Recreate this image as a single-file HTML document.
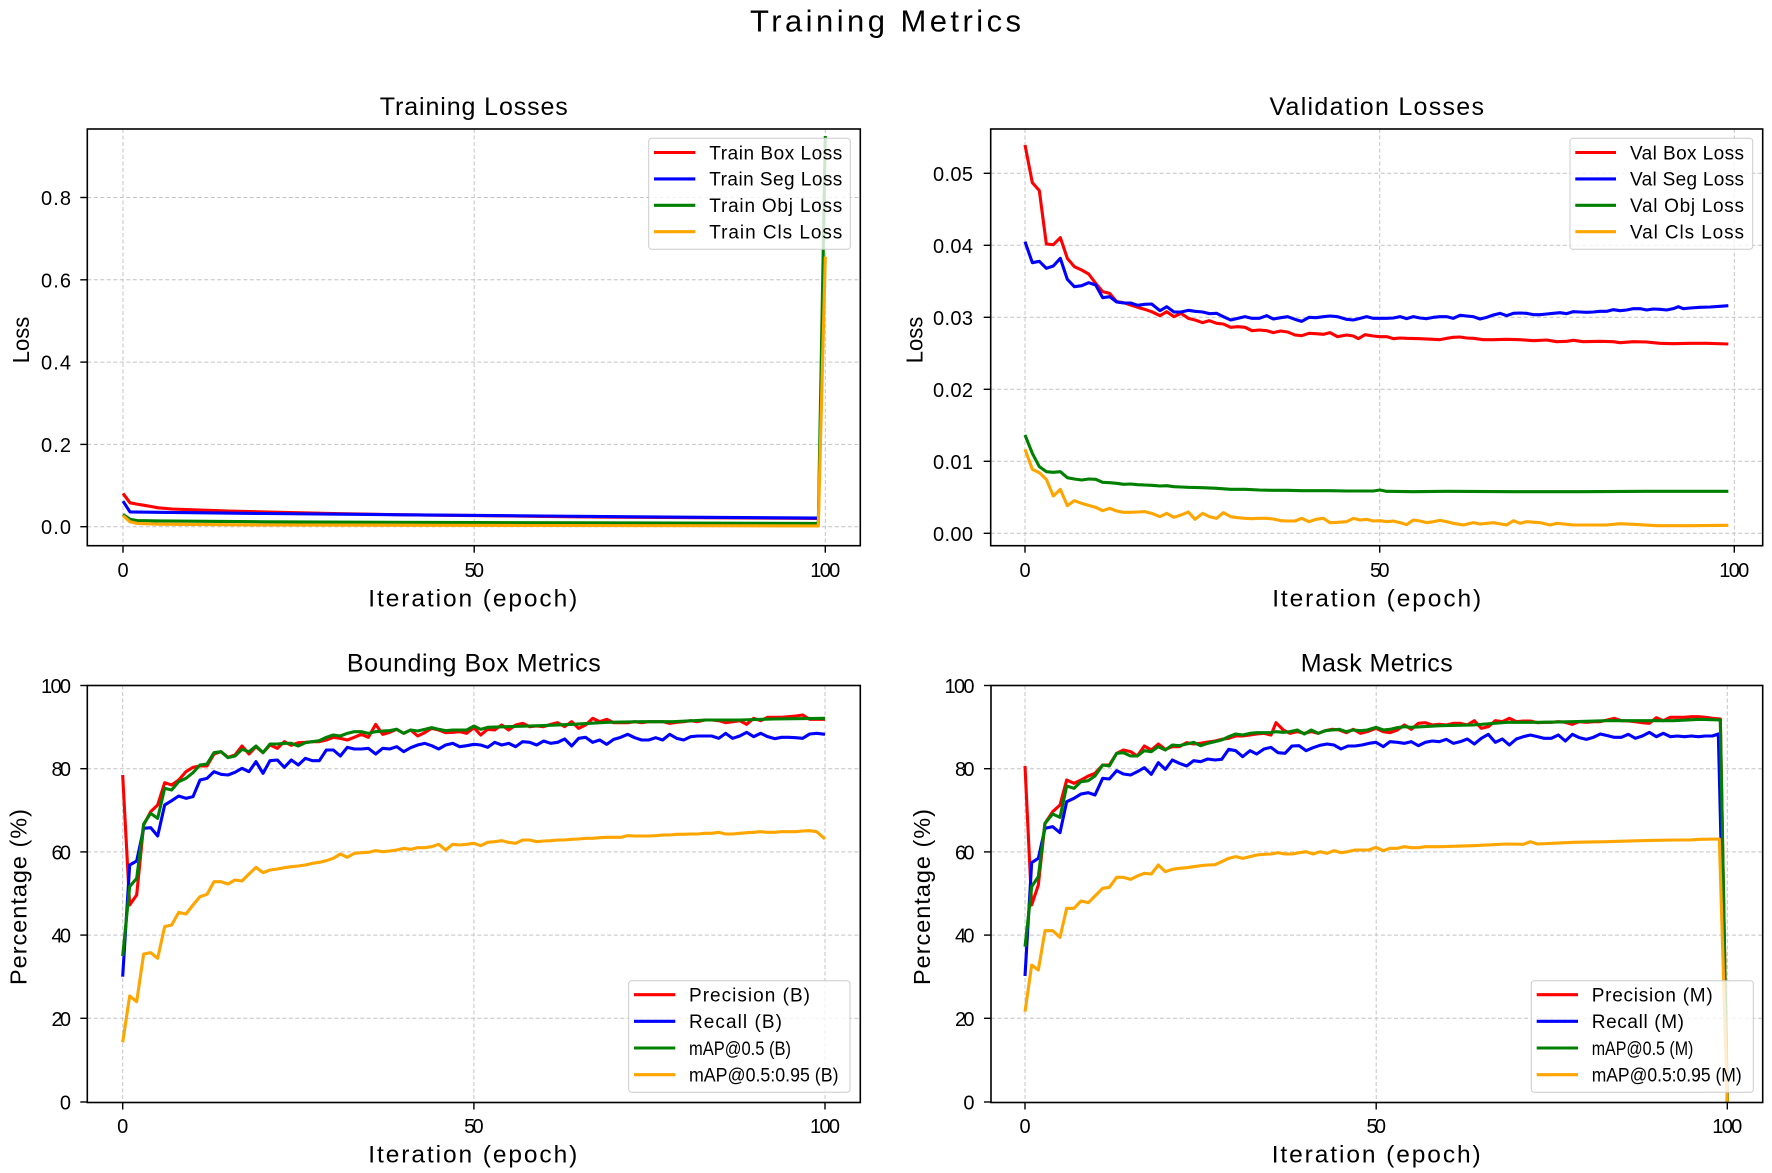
<!DOCTYPE html>
<html><head><meta charset="utf-8"><style>
html,body{margin:0;padding:0;background:#fff;}
svg{display:block;}
text{font-family:"Liberation Sans","Noto Sans CJK SC",sans-serif;fill:#000;}
.tk{font-size:20px;}
.lg{font-size:19px;}
.ttl{font-size:25px;}
.xl{font-size:24.5px;}
.yl{font-size:23.5px;}
.grid{stroke:#c4c4c4;stroke-width:1;stroke-dasharray:4 2.5;fill:none;}
.sp{fill:none;stroke:#000;stroke-width:1.6;}
.tm{stroke:#000;stroke-width:1.4;}
.ln{fill:none;stroke-width:3.1;stroke-linejoin:round;stroke-linecap:butt;}
.lz{fill:none;stroke-width:3.1;stroke-linejoin:round;stroke-linecap:butt;vector-effect:non-scaling-stroke;}
.leg{fill:#fff;fill-opacity:0.8;stroke:#cccccc;stroke-width:1;}
</style></head><body>
<svg width="1772" height="1173" viewBox="0 0 1772 1173" xmlns="http://www.w3.org/2000/svg">
<defs>
<clipPath id="cTL" clipPathUnits="userSpaceOnUse"><rect x="87.3" y="129" width="773" height="416.7"/></clipPath>
<clipPath id="cTR" clipPathUnits="userSpaceOnUse"><rect x="990.7" y="129" width="772" height="416.7"/></clipPath>
<clipPath id="cBL" clipPathUnits="userSpaceOnUse"><rect x="87.3" y="685.5" width="773" height="417"/></clipPath>
<clipPath id="cBR" clipPathUnits="userSpaceOnUse"><rect x="991" y="685.5" width="771.7" height="417"/></clipPath>
</defs>
<rect width="1772" height="1173" fill="#fff"/>

<text x="885.5" y="31.5" font-size="31" text-anchor="middle" textLength="271">Training Metrics</text>

<!-- ================= TOP LEFT ================= -->
<text class="ttl" x="473.8" y="115" text-anchor="middle" textLength="188">Training Losses</text>
<g class="grid">
<line x1="87.3" y1="526.7" x2="860.3" y2="526.7"/>
<line x1="87.3" y1="444.4" x2="860.3" y2="444.4"/>
<line x1="87.3" y1="362.1" x2="860.3" y2="362.1"/>
<line x1="87.3" y1="279.8" x2="860.3" y2="279.8"/>
<line x1="87.3" y1="197.5" x2="860.3" y2="197.5"/>
<line x1="123" y1="129" x2="123" y2="545.7"/>
<line x1="474.2" y1="129" x2="474.2" y2="545.7"/>
<line x1="825.3" y1="129" x2="825.3" y2="545.7"/>
</g>
<g clip-path="url(#cTL)">
<polyline class="ln" stroke="#ff0000" points="123,493.4 130,502.8 137,504.1 144.1,505.3 151.1,506.5 158.1,507.8 172.2,509 193.2,509.8 228.3,511.1 263.5,511.9 333.7,513.5 403.9,514.8 474.2,515.6 544.4,516.4 614.6,517.2 684.8,517.6 818.3,518.5"/>
<polyline class="ln" stroke="#0000ff" points="123,501.2 130,511.9 158.1,512.3 193.2,512.7 263.5,513.5 403.9,514.8 544.4,516 684.8,517.2 818.3,518.1"/>
<polyline class="ln" stroke="#008000" points="123,514.4 130,519.3 137,520.5 158.1,520.9 263.5,521.8 474.2,522.6 818.3,523.4 825.3,136"/>
<polyline class="ln" stroke="#ffa500" points="123,515.6 130,521.8 137,523.4 158.1,524.2 263.5,525 544.4,525.5 818.3,525.9 825.3,256.7"/>
</g>
<rect class="sp" x="87.3" y="129" width="773" height="416.7"/>
<g class="tm">
<line x1="80.3" y1="526.7" x2="87.3" y2="526.7"/><line x1="80.3" y1="444.4" x2="87.3" y2="444.4"/><line x1="80.3" y1="362.1" x2="87.3" y2="362.1"/><line x1="80.3" y1="279.8" x2="87.3" y2="279.8"/><line x1="80.3" y1="197.5" x2="87.3" y2="197.5"/>
<line x1="123" y1="545.7" x2="123" y2="552.7"/><line x1="474.2" y1="545.7" x2="474.2" y2="552.7"/><line x1="825.3" y1="545.7" x2="825.3" y2="552.7"/>
</g>
<g class="tk" text-anchor="end">
<text x="71" y="534.2" textLength="30">0.0</text>
<text x="71" y="451.9" textLength="30">0.2</text>
<text x="71" y="369.6" textLength="30">0.4</text>
<text x="71" y="287.3" textLength="30">0.6</text>
<text x="71" y="205" textLength="30">0.8</text>
</g>
<g class="tk" text-anchor="middle">
<text x="123" y="577">0</text>
<text x="474.2" y="577" textLength="19.5">50</text>
<text x="825.3" y="577" textLength="30">100</text>
</g>
<text class="xl" x="472.8" y="606.5" text-anchor="middle" textLength="209">Iteration (epoch)</text>
<text class="yl" transform="translate(28.8 340) rotate(-90)" text-anchor="middle" textLength="46.6" lengthAdjust="spacingAndGlyphs">Loss</text>
<rect class="leg" x="648.7" y="138.3" width="201.6" height="111" rx="3"/>
<g class="ln">
<line x1="654" y1="152.5" x2="695.3" y2="152.5" stroke="#ff0000"/>
<line x1="654" y1="178.9" x2="695.3" y2="178.9" stroke="#0000ff"/>
<line x1="654" y1="205.3" x2="695.3" y2="205.3" stroke="#008000"/>
<line x1="654" y1="231.7" x2="695.3" y2="231.7" stroke="#ffa500"/>
</g>
<g class="lg">
<text x="709.3" y="159.3" textLength="133">Train Box Loss</text>
<text x="709.3" y="185.7" textLength="133">Train Seg Loss</text>
<text x="709.3" y="212.1" textLength="133">Train Obj Loss</text>
<text x="709.3" y="238.5" textLength="133">Train Cls Loss</text>
</g>

<!-- ================= TOP RIGHT ================= -->
<text class="ttl" x="1376.7" y="115" text-anchor="middle" textLength="214.5">Validation Losses</text>
<g class="grid">
<line x1="990.7" y1="533.3" x2="1762.7" y2="533.3"/>
<line x1="990.7" y1="461.3" x2="1762.7" y2="461.3"/>
<line x1="990.7" y1="389.3" x2="1762.7" y2="389.3"/>
<line x1="990.7" y1="317.3" x2="1762.7" y2="317.3"/>
<line x1="990.7" y1="245.3" x2="1762.7" y2="245.3"/>
<line x1="990.7" y1="173.3" x2="1762.7" y2="173.3"/>
<line x1="1025" y1="129" x2="1025" y2="545.7"/>
<line x1="1379.7" y1="129" x2="1379.7" y2="545.7"/>
<line x1="1734.3" y1="129" x2="1734.3" y2="545.7"/>
</g>
<g clip-path="url(#cTR)"><g transform="translate(980 120) scale(0.333333)">
<polyline class="lz" stroke="#ff0000" points="135,75 157,188 178,212 199,372 220,374 241,353 262,415 283,440 305,450 326,462 347,490 368,515 389,520 410,545 431,548 452,555 473,562 494,568 515,575 540,587 560,575 582,590 603,580 625,595 645,600 668,608 688,602 710,610 730,612 752,622 773,620 795,622 816,632 838,630 860,632 880,638 902,633 923,636 945,645 965,647 987,640 1008,641 1030,643 1050,638 1072,650 1100,645 1120,648 1135,656 1155,644 1180,648 1200,650 1220,650 1240,656 1260,654 1280,655 1320,656 1360,658 1380,659 1400,655 1420,652 1440,651 1460,654 1480,655 1510,659 1540,659 1580,658 1620,659 1660,662 1700,660 1730,665 1760,664 1780,661 1810,665 1860,664 1900,665 1920,668 1960,665 2000,666 2040,670 2080,671 2130,670 2180,670 2245,672"/>
<polyline class="lz" stroke="#0000ff" points="135,365 157,428 178,424 199,445 220,438 241,415 262,478 283,500 305,497 326,488 347,495 368,533 389,530 410,546 431,549 452,549 473,556 494,553 515,552 540,572 560,560 582,576 603,576 625,571 645,574 668,576 688,581 710,580 730,590 752,600 773,595 795,590 816,595 838,595 860,587 880,597 902,593 923,590 945,598 965,604 987,592 1008,593 1030,590 1050,588 1072,590 1100,598 1120,600 1140,595 1160,590 1180,595 1200,595 1220,595 1240,594 1260,590 1280,596 1300,590 1320,594 1340,596 1360,592 1380,590 1400,590 1420,595 1440,586 1460,588 1480,590 1500,597 1520,592 1540,585 1560,580 1580,587 1600,580 1620,579 1640,580 1660,584 1680,584 1700,582 1720,580 1740,578 1760,581 1780,575 1800,576 1820,577 1840,576 1860,574 1880,574 1900,569 1920,572 1940,570 1960,566 1980,566 2000,570 2020,567 2040,568 2060,570 2080,566 2095,560 2110,566 2130,564 2160,562 2190,561 2220,559 2245,557"/>
<polyline class="lz" stroke="#008000" points="135,945 157,1000 178,1040 199,1055 220,1057 241,1055 262,1073 283,1077 305,1080 326,1077 347,1078 368,1087 389,1088 410,1090 431,1093 452,1092 473,1094 494,1095 515,1096 540,1098 560,1097 582,1100 603,1101 625,1102 668,1103 710,1105 752,1108 795,1108 838,1110 880,1111 923,1111 965,1112 1008,1112 1050,1112 1100,1113 1180,1113 1200,1110 1220,1114 1300,1115 1400,1114 1600,1115 1800,1115 2000,1114 2245,1114"/>
<polyline class="lz" stroke="#ffa500" points="135,988 157,1048 178,1058 199,1078 220,1128 241,1108 262,1157 283,1142 305,1150 326,1156 347,1162 368,1172 389,1165 410,1173 431,1177 452,1177 473,1176 494,1175 515,1180 540,1190 560,1180 582,1192 603,1185 625,1176 645,1198 668,1180 688,1190 710,1195 730,1178 752,1190 773,1193 795,1195 816,1196 838,1195 860,1195 880,1197 902,1202 923,1203 945,1203 965,1195 987,1205 1008,1198 1030,1195 1050,1208 1072,1207 1100,1205 1120,1195 1140,1200 1160,1198 1180,1203 1200,1202 1220,1205 1240,1203 1260,1208 1280,1214 1300,1200 1320,1203 1340,1208 1360,1205 1380,1201 1400,1205 1420,1210 1450,1215 1480,1208 1500,1212 1540,1208 1580,1215 1600,1202 1620,1210 1640,1205 1680,1208 1710,1215 1730,1210 1780,1215 1880,1215 1920,1211 1980,1214 2030,1217 2130,1217 2245,1216"/>
</g></g>
<rect class="sp" x="990.7" y="129" width="772" height="416.7"/>
<g class="tm">
<line x1="983.7" y1="533.3" x2="990.7" y2="533.3"/><line x1="983.7" y1="461.3" x2="990.7" y2="461.3"/><line x1="983.7" y1="389.3" x2="990.7" y2="389.3"/><line x1="983.7" y1="317.3" x2="990.7" y2="317.3"/><line x1="983.7" y1="245.3" x2="990.7" y2="245.3"/><line x1="983.7" y1="173.3" x2="990.7" y2="173.3"/>
<line x1="1025" y1="545.7" x2="1025" y2="552.7"/><line x1="1379.7" y1="545.7" x2="1379.7" y2="552.7"/><line x1="1734.3" y1="545.7" x2="1734.3" y2="552.7"/>
</g>
<g class="tk" text-anchor="end">
<text x="973" y="540.8" textLength="40">0.00</text>
<text x="973" y="468.8" textLength="40">0.01</text>
<text x="973" y="396.8" textLength="40">0.02</text>
<text x="973" y="324.8" textLength="40">0.03</text>
<text x="973" y="252.8" textLength="40">0.04</text>
<text x="973" y="180.8" textLength="40">0.05</text>
</g>
<g class="tk" text-anchor="middle">
<text x="1025" y="577">0</text>
<text x="1379.7" y="577" textLength="19.5">50</text>
<text x="1734.3" y="577" textLength="30">100</text>
</g>
<text class="xl" x="1376.7" y="606.5" text-anchor="middle" textLength="209">Iteration (epoch)</text>
<text class="yl" transform="translate(922.3 340) rotate(-90)" text-anchor="middle" textLength="46.6" lengthAdjust="spacingAndGlyphs">Loss</text>
<rect class="leg" x="1570" y="138.3" width="182.7" height="111" rx="3"/>
<g class="ln">
<line x1="1575.3" y1="152.5" x2="1616" y2="152.5" stroke="#ff0000"/>
<line x1="1575.3" y1="178.9" x2="1616" y2="178.9" stroke="#0000ff"/>
<line x1="1575.3" y1="205.3" x2="1616" y2="205.3" stroke="#008000"/>
<line x1="1575.3" y1="231.7" x2="1616" y2="231.7" stroke="#ffa500"/>
</g>
<g class="lg">
<text x="1630" y="159.3" textLength="114">Val Box Loss</text>
<text x="1630" y="185.7" textLength="114">Val Seg Loss</text>
<text x="1630" y="212.1" textLength="114">Val Obj Loss</text>
<text x="1630" y="238.5" textLength="114">Val Cls Loss</text>
</g>

<!-- ================= BOTTOM LEFT ================= -->
<text class="ttl" x="473.8" y="671.5" text-anchor="middle" textLength="253.8">Bounding Box Metrics</text>
<g class="grid">
<line x1="87.3" y1="1018.3" x2="860.3" y2="1018.3"/>
<line x1="87.3" y1="935.1" x2="860.3" y2="935.1"/>
<line x1="87.3" y1="851.9" x2="860.3" y2="851.9"/>
<line x1="87.3" y1="768.7" x2="860.3" y2="768.7"/>
<line x1="122.7" y1="685.5" x2="122.7" y2="1102.5"/>
<line x1="473.9" y1="685.5" x2="473.9" y2="1102.5"/>
<line x1="825" y1="685.5" x2="825" y2="1102.5"/>
</g>
<g clip-path="url(#cBL)"><g transform="translate(80 680) scale(0.333333)">
<polyline class="lz" stroke="#ff0000" points="128,285 149,675 170,645 191,435 212,395 233,375 254,308 275,315 296,300 318,275 339,262 360,258 381,258 402,222 423,215 444,232 465,225 486,198 507,222 528,200 549,218 570,195 592,205 613,185 634,196 655,188 676,187 697,185 718,185 739,180 760,172 781,175 802,180 823,172 844,163 865,172 887,133 908,163 929,157 950,148 971,160 992,150 1013,168 1034,158 1055,145 1076,150 1097,158 1118,157 1139,155 1160,160 1182,143 1202,165 1223,148 1244,150 1265,135 1286,150 1307,135 1328,130 1349,140 1370,138 1391,140 1412,133 1433,128 1454,140 1475,125 1496,145 1517,135 1538,115 1559,125 1580,118 1601,128 1622,128 1643,128 1664,125 1685,128 1706,125 1727,125 1748,125 1769,130 1790,127 1811,125 1832,122 1853,125 1874,120 1895,120 1916,122 1937,128 1958,125 1979,122 2000,133 2021,115 2042,122 2063,112 2084,112 2105,112 2126,110 2147,108 2168,105 2189,118 2210,118 2235,118"/>
<polyline class="lz" stroke="#0000ff" points="128,890 149,555 170,543 191,445 212,443 233,468 254,375 275,362 296,348 318,355 339,350 360,300 381,295 402,275 423,283 444,285 465,277 486,265 507,275 528,245 549,280 570,242 592,240 613,262 634,240 655,255 676,235 697,242 718,242 739,210 760,210 781,228 802,202 823,207 844,207 865,205 887,222 908,205 929,207 950,200 971,215 992,203 1013,195 1034,190 1055,197 1076,207 1097,195 1118,190 1139,200 1160,197 1182,193 1202,195 1223,202 1244,187 1265,195 1286,190 1307,200 1328,185 1349,187 1370,195 1391,183 1412,190 1433,187 1454,177 1475,198 1496,175 1517,172 1538,187 1559,180 1580,193 1601,178 1622,172 1643,163 1664,173 1685,180 1706,180 1727,173 1748,180 1769,163 1790,175 1811,180 1832,170 1853,168 1874,168 1895,168 1916,175 1937,160 1958,175 1979,168 2000,157 2021,170 2042,160 2063,170 2084,176 2105,172 2126,172 2147,173 2168,175 2189,162 2210,160 2235,163"/>
<polyline class="lz" stroke="#008000" points="128,828 149,620 170,595 191,432 212,400 233,415 254,325 275,330 296,305 318,295 339,278 360,255 381,252 402,218 423,215 444,233 465,228 486,208 507,215 528,198 549,218 570,192 592,192 613,190 634,190 655,198 676,188 697,185 718,182 739,172 760,165 781,168 802,160 823,155 844,155 865,160 887,155 908,153 929,152 950,148 971,160 992,150 1013,153 1034,148 1055,143 1076,148 1097,152 1118,150 1139,150 1160,150 1182,138 1202,148 1223,142 1280,140 1380,137 1480,133 1580,127 1680,125 1780,125 1880,120 1980,120 2080,117 2235,115"/>
<polyline class="lz" stroke="#ffa500" points="128,1087 149,948 170,965 191,822 212,818 233,835 254,740 275,735 296,697 318,702 339,675 360,650 381,643 402,605 423,605 444,612 465,600 486,603 507,582 528,562 549,578 570,570 592,567 613,563 634,560 655,558 676,555 697,550 718,547 739,542 760,535 781,522 802,532 823,520 844,518 865,517 887,512 908,515 929,513 950,510 971,505 992,508 1013,503 1034,503 1055,500 1076,493 1097,510 1118,493 1139,495 1160,493 1182,490 1202,497 1223,487 1244,485 1265,482 1286,487 1307,490 1328,480 1349,480 1370,485 1391,483 1412,482 1433,480 1454,480 1475,478 1496,477 1517,475 1538,475 1559,473 1580,472 1601,472 1622,472 1643,467 1664,468 1685,468 1706,468 1727,467 1748,465 1769,465 1790,463 1811,463 1832,462 1853,462 1874,460 1895,460 1916,457 1937,462 1958,462 1979,460 2000,458 2021,457 2042,455 2063,457 2084,457 2105,455 2126,455 2147,455 2168,453 2189,452 2210,455 2235,477"/>
</g></g>
<rect class="sp" x="87.3" y="685.5" width="773" height="417"/>
<g class="tm">
<line x1="80.3" y1="1102" x2="87.3" y2="1102"/><line x1="80.3" y1="1018.3" x2="87.3" y2="1018.3"/><line x1="80.3" y1="935.1" x2="87.3" y2="935.1"/><line x1="80.3" y1="851.9" x2="87.3" y2="851.9"/><line x1="80.3" y1="768.7" x2="87.3" y2="768.7"/><line x1="80.3" y1="685.5" x2="87.3" y2="685.5"/>
<line x1="122.7" y1="1102.5" x2="122.7" y2="1109.5"/><line x1="473.9" y1="1102.5" x2="473.9" y2="1109.5"/><line x1="825" y1="1102.5" x2="825" y2="1109.5"/>
</g>
<g class="tk" text-anchor="end">
<text x="71" y="1109.5">0</text>
<text x="71" y="1025.8" textLength="19.5">20</text>
<text x="71" y="942.6" textLength="19.5">40</text>
<text x="71" y="859.4" textLength="19.5">60</text>
<text x="71" y="776.2" textLength="19.5">80</text>
<text x="71" y="693" textLength="30">100</text>
</g>
<g class="tk" text-anchor="middle">
<text x="122.7" y="1133">0</text>
<text x="473.9" y="1133" textLength="19.5">50</text>
<text x="825" y="1133" textLength="30">100</text>
</g>
<text class="xl" x="472.8" y="1162.5" text-anchor="middle" textLength="209">Iteration (epoch)</text>
<text class="yl" transform="translate(26.7 897) rotate(-90)" text-anchor="middle" textLength="176">Percentage (%)</text>
<rect class="leg" x="628.7" y="980.7" width="221.3" height="111.6" rx="3"/>
<g class="ln">
<line x1="634" y1="994.7" x2="675.3" y2="994.7" stroke="#ff0000"/>
<line x1="634" y1="1021.3" x2="675.3" y2="1021.3" stroke="#0000ff"/>
<line x1="634" y1="1048" x2="675.3" y2="1048" stroke="#008000"/>
<line x1="634" y1="1074.7" x2="675.3" y2="1074.7" stroke="#ffa500"/>
</g>
<g class="lg">
<text x="689" y="1001.5" textLength="121">Precision (B)</text>
<text x="689" y="1028.1" textLength="93">Recall (B)</text>
<text x="689" y="1054.8" textLength="102" lengthAdjust="spacingAndGlyphs">mAP@0.5 (B)</text>
<text x="689" y="1081.5" textLength="149.5" lengthAdjust="spacingAndGlyphs">mAP@0.5:0.95 (B)</text>
</g>

<!-- ================= BOTTOM RIGHT ================= -->
<text class="ttl" x="1376.7" y="671.5" text-anchor="middle" textLength="152">Mask Metrics</text>
<g class="grid">
<line x1="991" y1="1018.3" x2="1762.7" y2="1018.3"/>
<line x1="991" y1="935.1" x2="1762.7" y2="935.1"/>
<line x1="991" y1="851.9" x2="1762.7" y2="851.9"/>
<line x1="991" y1="768.7" x2="1762.7" y2="768.7"/>
<line x1="1025" y1="685.5" x2="1025" y2="1102.5"/>
<line x1="1376.2" y1="685.5" x2="1376.2" y2="1102.5"/>
<line x1="1727.3" y1="685.5" x2="1727.3" y2="1102.5"/>
</g>
<g clip-path="url(#cBR)"><g transform="translate(980 680) scale(0.333333)">
<polyline class="lz" stroke="#ff0000" points="135,258 155,675 175,615 195,430 218,395 240,375 260,300 282,310 303,300 325,288 345,280 368,255 388,255 410,220 430,210 452,215 472,228 493,198 514,210 535,192 556,208 577,200 598,200 620,188 641,192 662,190 683,186 705,183 725,178 746,175 767,168 788,168 810,165 830,162 852,160 873,165 888,128 910,150 930,160 952,155 973,160 994,155 1015,160 1036,152 1057,148 1078,150 1099,158 1120,148 1141,160 1162,155 1188,145 1210,155 1230,158 1252,150 1273,135 1294,148 1315,130 1336,128 1357,135 1378,133 1399,135 1420,130 1441,130 1462,135 1483,122 1504,145 1525,140 1546,122 1567,125 1588,115 1609,125 1630,123 1651,123 1672,128 1693,127 1714,127 1735,125 1756,127 1777,133 1798,125 1819,127 1840,125 1861,125 1882,120 1903,115 1924,122 1945,123 1966,125 1987,128 2008,130 2029,113 2050,122 2071,112 2092,112 2113,112 2134,110 2155,110 2176,112 2197,115 2221,117 2242,1266"/>
<polyline class="lz" stroke="#0000ff" points="135,888 155,548 175,535 195,445 218,440 240,458 260,365 282,355 303,342 325,338 345,345 368,295 388,297 410,272 430,282 452,285 472,275 493,263 514,283 535,248 556,268 577,240 598,250 620,258 641,242 662,245 683,237 705,240 725,238 746,208 767,212 788,230 810,212 830,222 852,207 873,202 894,218 915,220 936,198 957,197 978,212 999,203 1020,196 1041,192 1062,195 1083,207 1104,198 1125,198 1146,195 1167,190 1188,187 1210,200 1230,185 1252,187 1273,190 1294,185 1315,197 1336,187 1357,183 1378,185 1399,178 1420,190 1441,185 1462,177 1483,192 1504,175 1525,163 1546,187 1567,177 1588,195 1609,177 1630,170 1651,165 1672,170 1693,175 1714,175 1735,165 1756,183 1777,163 1798,173 1819,178 1840,172 1861,162 1882,167 1903,172 1924,172 1945,163 1966,175 1987,168 2008,157 2029,170 2050,160 2071,170 2092,168 2113,170 2134,168 2155,170 2176,168 2197,168 2215,162 2242,1266"/>
<polyline class="lz" stroke="#008000" points="135,800 155,620 175,590 195,430 218,402 240,412 260,318 282,325 303,305 325,302 345,288 368,255 388,258 410,220 430,218 452,228 472,228 493,212 514,215 535,200 556,210 577,195 598,197 620,192 641,187 662,197 683,190 705,185 725,180 746,170 767,162 788,165 810,160 830,158 852,158 873,158 888,155 910,157 930,155 952,150 973,162 994,150 1015,160 1036,152 1057,150 1078,148 1099,155 1120,150 1141,152 1162,150 1188,142 1210,150 1230,148 1252,143 1273,140 1294,142 1380,137 1480,135 1580,127 1680,127 1780,125 1880,122 1980,122 2080,122 2160,118 2221,120 2242,1266"/>
<polyline class="lz" stroke="#ffa500" points="135,995 155,855 175,870 195,752 218,752 240,772 260,685 282,685 303,663 325,668 345,648 368,625 388,622 410,592 430,592 452,598 472,588 493,580 514,582 535,555 556,575 577,568 598,565 620,563 641,560 662,557 683,555 705,554 725,545 746,535 767,530 788,535 810,530 830,525 852,523 873,522 894,518 915,522 936,522 957,518 978,515 999,522 1020,515 1041,520 1062,512 1083,518 1104,515 1125,510 1146,510 1167,510 1188,502 1210,512 1230,505 1252,505 1273,500 1294,503 1315,503 1336,500 1380,500 1480,497 1580,492 1630,493 1651,485 1672,492 1780,487 1880,485 1980,482 2080,480 2130,480 2160,478 2218,477 2242,1270"/>
</g></g>
<rect class="sp" x="991" y="685.5" width="771.7" height="417"/>
<g class="tm">
<line x1="984" y1="1102" x2="991" y2="1102"/><line x1="984" y1="1018.3" x2="991" y2="1018.3"/><line x1="984" y1="935.1" x2="991" y2="935.1"/><line x1="984" y1="851.9" x2="991" y2="851.9"/><line x1="984" y1="768.7" x2="991" y2="768.7"/><line x1="984" y1="685.5" x2="991" y2="685.5"/>
<line x1="1025" y1="1102.5" x2="1025" y2="1109.5"/><line x1="1376.2" y1="1102.5" x2="1376.2" y2="1109.5"/><line x1="1727.3" y1="1102.5" x2="1727.3" y2="1109.5"/>
</g>
<g class="tk" text-anchor="end">
<text x="974.5" y="1109.5">0</text>
<text x="974.5" y="1025.8" textLength="19.5">20</text>
<text x="974.5" y="942.6" textLength="19.5">40</text>
<text x="974.5" y="859.4" textLength="19.5">60</text>
<text x="974.5" y="776.2" textLength="19.5">80</text>
<text x="974.5" y="693" textLength="30">100</text>
</g>
<g class="tk" text-anchor="middle">
<text x="1025" y="1133">0</text>
<text x="1376.2" y="1133" textLength="19.5">50</text>
<text x="1727.3" y="1133" textLength="30">100</text>
</g>
<text class="xl" x="1376.2" y="1162.5" text-anchor="middle" textLength="209">Iteration (epoch)</text>
<text class="yl" transform="translate(930.2 897) rotate(-90)" text-anchor="middle" textLength="176">Percentage (%)</text>
<rect class="leg" x="1531.3" y="980.7" width="222" height="111.6" rx="3"/>
<g class="ln">
<line x1="1536.7" y1="994.7" x2="1578" y2="994.7" stroke="#ff0000"/>
<line x1="1536.7" y1="1021.3" x2="1578" y2="1021.3" stroke="#0000ff"/>
<line x1="1536.7" y1="1048" x2="1578" y2="1048" stroke="#008000"/>
<line x1="1536.7" y1="1074.7" x2="1578" y2="1074.7" stroke="#ffa500"/>
</g>
<g class="lg">
<text x="1591.7" y="1001.5" textLength="121">Precision (M)</text>
<text x="1591.7" y="1028.1" textLength="92.3">Recall (M)</text>
<text x="1591.7" y="1054.8" textLength="101.7" lengthAdjust="spacingAndGlyphs">mAP@0.5 (M)</text>
<text x="1591.7" y="1081.5" textLength="150" lengthAdjust="spacingAndGlyphs">mAP@0.5:0.95 (M)</text>
</g>
</svg>
</body></html>
